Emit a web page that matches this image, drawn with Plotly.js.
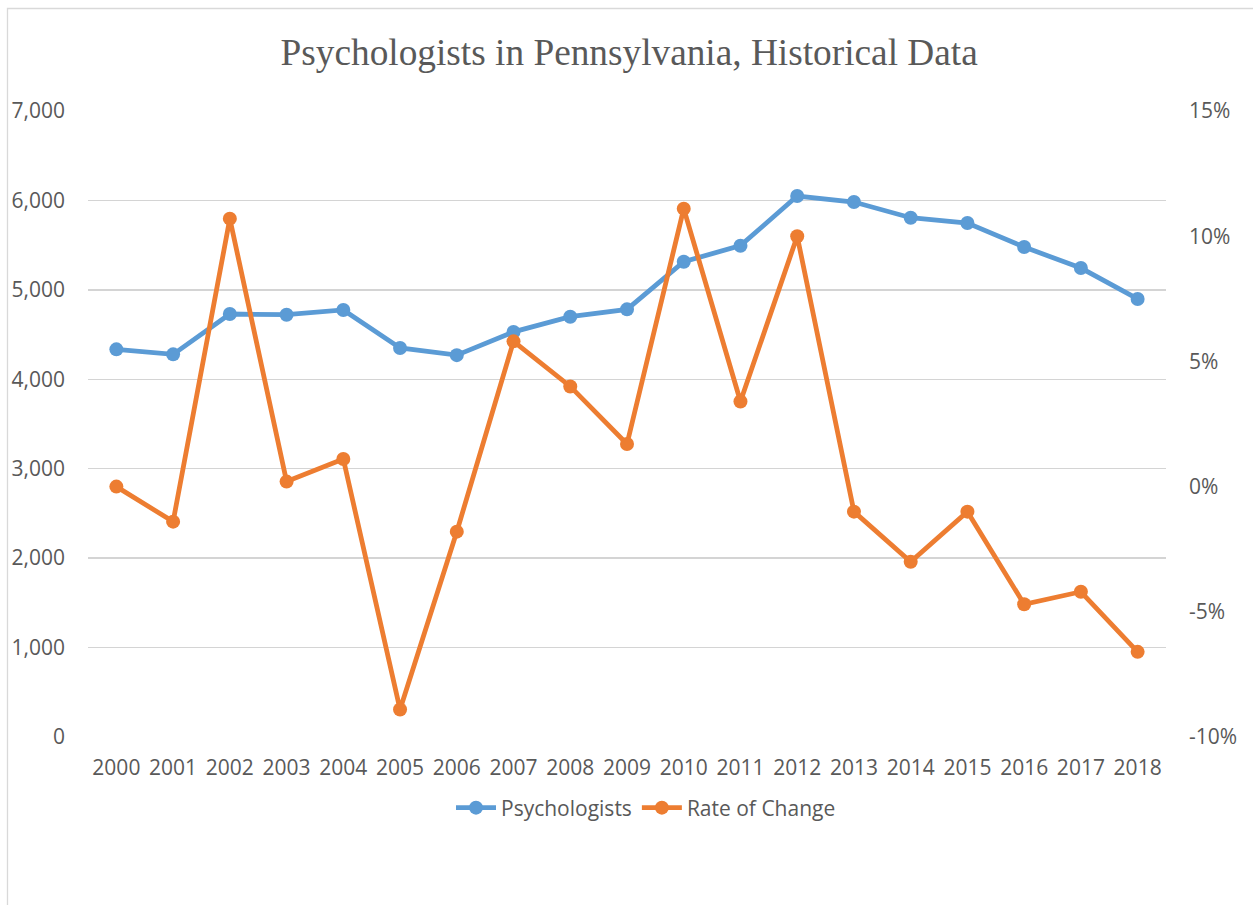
<!DOCTYPE html>
<html>
<head>
<meta charset="utf-8">
<script src="https://cdn.plot.ly/plotly-3.0.1.min.js"></script>
<style>
  html, body { margin: 0; padding: 0; background: #ffffff; }
  #chart { width: 1253px; height: 905px; }
</style>
</head>
<body>
<div id="chart"></div>
<script>
const years = ["2000","2001","2002","2003","2004","2005","2006","2007","2008","2009",
               "2010","2011","2012","2013","2014","2015","2016","2017","2018"];
const psychologists = [4335, 4279, 4730, 4722, 4775, 4350, 4270, 4530, 4700, 4782,
                       5315, 5494, 6049, 5982, 5807, 5747, 5479, 5244, 4898];
const rateOfChange = [0.0, -1.4, 10.7, 0.2, 1.1, -8.9, -1.8, 5.8, 4.0, 1.7,
                      11.1, 3.4, 10.0, -1.0, -3.0, -1.0, -4.7, -4.2, -6.6];
const leftTicks = [0, 1000, 2000, 3000, 4000, 5000, 6000, 7000];
const leftTickText = ["0", "1,000", "2,000", "3,000", "4,000", "5,000", "6,000", "7,000"];
const rightTicks = [-10, -5, 0, 5, 10, 15];
const rightTickText = ["-10%", "-5%", "0%", "5%", "10%", "15%"];

const W = 1253, H = 905;
const M = {l: 88, r: 87, t: 111, b: 168};
const pw = W - M.l - M.r, ph = H - M.t - M.b;
function px(x) { return (x - M.l) / pw; }
function py(y) { return (H - M.b - y) / ph; }

const tickFont = {family: "Open Sans, Liberation Sans, sans-serif", size: 21, color: "#595959"};

const traces = [
  {
    x: years, y: psychologists, name: "Psychologists", type: "scatter", mode: "lines+markers",
    line: {color: "#5B9BD5", width: 4.8}, marker: {color: "#5B9BD5", size: 14},
    yaxis: "y", hoverinfo: "skip"
  },
  {
    x: years, y: rateOfChange, name: "Rate of Change", type: "scatter", mode: "lines+markers",
    line: {color: "#ED7D31", width: 4.8}, marker: {color: "#ED7D31", size: 14},
    yaxis: "y2", hoverinfo: "skip"
  }
];

const layout = {
  width: W, height: H,
  margin: M,
  paper_bgcolor: "#ffffff", plot_bgcolor: "#ffffff",
  showlegend: true,
  title: {
    text: "Psychologists in Pennsylvania, Historical Data",
    font: {family: "Liberation Serif, Times New Roman, serif", size: 37.3, color: "#595959"},
    x: 0.502, xanchor: "center", xref: "paper",
    y: 1 - 52 / H, yanchor: "middle", yref: "container"
  },
  xaxis: {
    type: "category", range: [-0.5, years.length - 0.5], autorange: false,
    showgrid: false, zeroline: false, showline: false, ticks: "",
    tickfont: tickFont, ticklabelstandoff: 16, fixedrange: true
  },
  yaxis: {
    range: [0, 7000], tickvals: leftTicks, ticktext: leftTickText,
    showgrid: true, gridcolor: "#d4d4d4", gridwidth: 1.4, zeroline: false, showline: false,
    ticks: "", tickfont: tickFont, ticklabelstandoff: 22, fixedrange: true
  },
  yaxis2: {
    range: [-10, 15], tickvals: rightTicks, ticktext: rightTickText,
    overlaying: "y", side: "right", showgrid: false, zeroline: false, showline: false,
    ticks: "", tickfont: tickFont, ticklabelstandoff: 22, fixedrange: true
  },
  legend: {
    orientation: "h", x: px(646), xanchor: "center", y: py(808), yanchor: "middle",
    font: tickFont, bgcolor: "rgba(0,0,0,0)", itemclick: false, itemdoubleclick: false,
    traceorder: "normal", itemwidth: 40
  },
  shapes: [
    {type: "rect", xref: "paper", yref: "paper",
     x0: px(7.5), x1: px(1265), y0: py(915), y1: py(8.5),
     line: {color: "#d9d9d9", width: 1.3}, fillcolor: "rgba(0,0,0,0)", layer: "below"}
  ]
};

Plotly.newPlot("chart", traces, layout, {displayModeBar: false, staticPlot: true});
</script>
</body>
</html>
